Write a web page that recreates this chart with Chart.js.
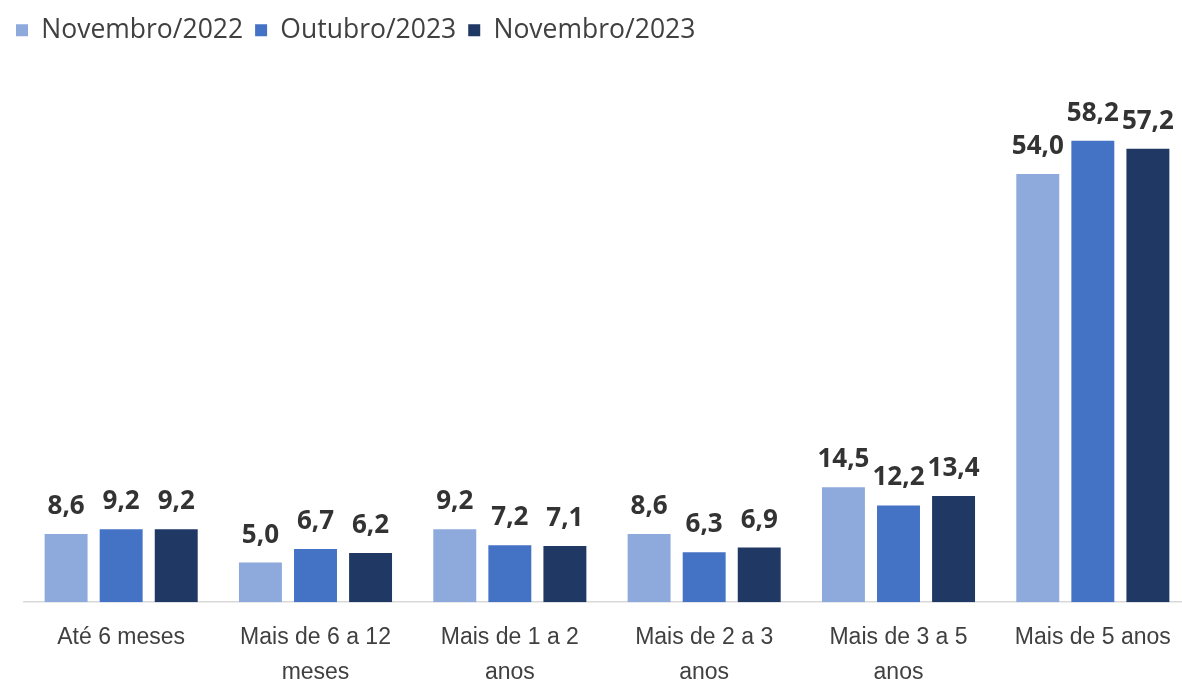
<!DOCTYPE html>
<html lang="pt-BR">
<head>
<meta charset="utf-8">
<title>Tempo de desemprego</title>
<script src="https://cdn.jsdelivr.net/npm/chart.js@4.4.1/dist/chart.umd.min.js"></script>
<style>
  html, body { margin: 0; padding: 0; background: #fff; overflow: hidden; }
  /* um pouco maior que a janela: a imagem original corta a última linha */
  #wrap { width: 1190px; height: 708px; }
</style>
</head>
<body>
<div id="wrap"><canvas id="chart"></canvas></div>
<script>
// Dados
const categorias = [
  'Até 6 meses',
  ['Mais de 6 a 12', 'meses'],
  ['Mais de 1 a 2', 'anos'],
  ['Mais de 2 a 3', 'anos'],
  ['Mais de 3 a 5', 'anos'],
  'Mais de 5 anos'
];
const novembro2022 = [8.6, 5.0, 9.2, 8.6, 14.5, 54.0];
const outubro2023 = [9.2, 6.7, 7.2, 6.3, 12.2, 58.2];
const novembro2023 = [9.2, 6.2, 7.1, 6.9, 13.4, 57.2];

const cores = ['#8eaadc', '#4472c4', '#203864'];

// Rótulos acima das barras
const rotulos = {
  id: 'rotulos',
  afterDatasetsDraw(chart) {
    const ctx = chart.ctx;
    ctx.save();
    ctx.font = 'bold 26px "Open Sans", sans-serif';
    ctx.fillStyle = '#333333';
    ctx.textAlign = 'center';
    ctx.textBaseline = 'alphabetic';
    chart.data.datasets.forEach((ds, i) => {
      chart.getDatasetMeta(i).data.forEach((bar, j) => {
        ctx.fillText(ds.data[j].toFixed(1).replace('.', ','), bar.x, bar.y - 20);
      });
    });
    ctx.restore();
  }
};

new Chart(document.getElementById('chart'), {
  type: 'bar',
  data: {
    labels: categorias,
    datasets: [
      { label: 'Novembro/2022', data: novembro2022, backgroundColor: cores[0] },
      { label: 'Outubro/2023', data: outubro2023, backgroundColor: cores[1] },
      { label: 'Novembro/2023', data: novembro2023, backgroundColor: cores[2] }
    ]
  },
  options: {
    responsive: true,
    maintainAspectRatio: false,
    animation: false,
    datasets: {
      bar: { categoryPercentage: 0.85, barPercentage: 0.78 }
    },
    layout: { padding: { left: 4, right: 0, top: 5, bottom: 0 } },
    plugins: {
      legend: {
        position: 'top',
        align: 'start',
        labels: {
          boxWidth: 12,
          boxHeight: 12,
          padding: 12,
          color: '#404040',
          font: { size: 26.5, family: '"Open Sans", sans-serif' }
        }
      },
      tooltip: { enabled: false }
    },
    scales: {
      y: {
        display: true,
        min: 0,
        max: 69.2,
        grid: { display: false },
        border: { display: false },
        ticks: { display: false },
        // espaço à esquerda do eixo
        afterFit(scale) { scale.width = 20; }
      },
      x: {
        grid: { display: false, drawTicks: false },
        border: { color: '#d9d9d9', width: 1.5 },
        ticks: {
          color: '#404040',
          padding: 17,
          maxRotation: 0,
          font: { size: 23, family: '"Liberation Sans", Arial, sans-serif', lineHeight: 1.56 }
        }
      }
    }
  },
  plugins: [rotulos]
});
</script>
</body>
</html>
